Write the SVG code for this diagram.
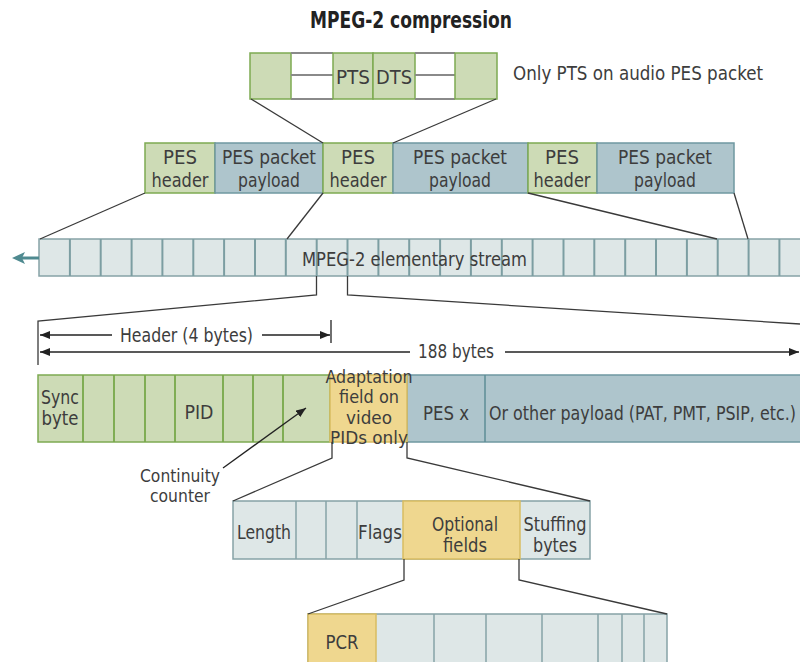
<svg xmlns="http://www.w3.org/2000/svg" width="800" height="662" viewBox="0 0 800 662">
  <defs>
    <style>
      .t { font-family: "Liberation Sans Narrow", "DejaVu Sans Condensed", "Liberation Sans", sans-serif; font-size: 19.5px; fill: #3d3d3d; }
      .s { font-size: 18px; }
      .c { text-anchor: middle; }
      .title { font-family: "Liberation Sans Narrow", "DejaVu Sans Condensed", "Liberation Sans", sans-serif; font-size: 23px; font-weight: bold; fill: #222; }
      .green { fill: #cddbb6; stroke: #7daa52; stroke-width: 1.5; }
      .blue { fill: #aec5cc; stroke: #6f98a1; stroke-width: 1.5; }
      .light { fill: #dee7e7; stroke: #86a3a7; stroke-width: 1.5; }
      .yellow { fill: #efd78f; stroke: #d9bd62; stroke-width: 1.5; }
      .div { stroke: #7c9ea2; stroke-width: 2; }
      .gdiv { stroke: #78a84a; stroke-width: 1.8; }
      .ldiv { stroke: #86a3a7; stroke-width: 1.5; }
      .gray { stroke: #8a8a8a; stroke-width: 1.8; fill: none; }
      .conn { stroke: #3a3a3a; stroke-width: 1.3; fill: none; }
      .dim { stroke: #222; stroke-width: 1.3; fill: none; }
    </style>
    <marker id="ah" viewBox="0 0 10 8" refX="10" refY="4" markerWidth="10" markerHeight="8" markerUnits="userSpaceOnUse" orient="auto-start-reverse">
      <path d="M0,0 L10,4 L0,8 z" fill="#222"/>
    </marker>
  </defs>

  <rect width="800" height="662" fill="#ffffff"/>

  <text class="title c" x="411" y="28" textLength="202" lengthAdjust="spacingAndGlyphs">MPEG-2 compression</text>

  <!-- PES header detail -->
  <g id="pes-header-detail">
    <rect class="green" x="250" y="53" width="41" height="46"/>
    <line class="gray" x1="291" y1="53" x2="333" y2="53"/>
    <line class="gray" x1="291" y1="75" x2="333" y2="75"/>
    <line class="gray" x1="291" y1="99" x2="333" y2="99"/>
    <rect class="green" x="333" y="53" width="40" height="46"/>
    <rect class="green" x="373" y="53" width="42" height="46"/>
    <line class="gray" x1="415" y1="53" x2="455" y2="53"/>
    <line class="gray" x1="415" y1="75" x2="455" y2="75"/>
    <line class="gray" x1="415" y1="99" x2="455" y2="99"/>
    <rect class="green" x="455" y="53" width="42" height="46"/>
    <text class="t c" x="353" y="84" textLength="34" lengthAdjust="spacingAndGlyphs">PTS</text>
    <text class="t c" x="394" y="84" textLength="36" lengthAdjust="spacingAndGlyphs">DTS</text>
  </g>
  <text class="t" x="513" y="80" textLength="250" lengthAdjust="spacingAndGlyphs">Only PTS on audio PES packet</text>

  <!-- PES packets -->
  <g id="pes-packets">
    <rect class="green" x="145" y="143" width="70" height="50"/>
    <rect class="blue" x="215" y="143" width="108" height="50"/>
    <rect class="green" x="323" y="143" width="70" height="50"/>
    <rect class="blue" x="393" y="143" width="135" height="50"/>
    <rect class="green" x="528" y="143" width="69" height="50"/>
    <rect class="blue" x="597" y="143" width="137" height="50"/>
    <text class="t c" x="180" y="164" textLength="34" lengthAdjust="spacingAndGlyphs">PES</text>
    <text class="t c" x="180" y="187" textLength="57" lengthAdjust="spacingAndGlyphs">header</text>
    <text class="t c" x="269" y="164" textLength="94" lengthAdjust="spacingAndGlyphs">PES packet</text>
    <text class="t c" x="269" y="187" textLength="62" lengthAdjust="spacingAndGlyphs">payload</text>
    <text class="t c" x="358" y="164" textLength="34" lengthAdjust="spacingAndGlyphs">PES</text>
    <text class="t c" x="358" y="187" textLength="57" lengthAdjust="spacingAndGlyphs">header</text>
    <text class="t c" x="460" y="164" textLength="94" lengthAdjust="spacingAndGlyphs">PES packet</text>
    <text class="t c" x="460" y="187" textLength="62" lengthAdjust="spacingAndGlyphs">payload</text>
    <text class="t c" x="562" y="164" textLength="34" lengthAdjust="spacingAndGlyphs">PES</text>
    <text class="t c" x="562" y="187" textLength="57" lengthAdjust="spacingAndGlyphs">header</text>
    <text class="t c" x="665" y="164" textLength="94" lengthAdjust="spacingAndGlyphs">PES packet</text>
    <text class="t c" x="665" y="187" textLength="62" lengthAdjust="spacingAndGlyphs">payload</text>
  </g>

  <!-- elementary stream -->
  <g id="elementary-stream">
    <rect class="light" x="39" y="239" width="780" height="37"/>
    <g class="div">
      <line x1="69.9" y1="239" x2="69.9" y2="276"/>
      <line x1="100.7" y1="239" x2="100.7" y2="276"/>
      <line x1="131.6" y1="239" x2="131.6" y2="276"/>
      <line x1="162.4" y1="239" x2="162.4" y2="276"/>
      <line x1="193.3" y1="239" x2="193.3" y2="276"/>
      <line x1="224.1" y1="239" x2="224.1" y2="276"/>
      <line x1="255" y1="239" x2="255" y2="276"/>
      <line x1="285.8" y1="239" x2="285.8" y2="276"/>
      <line x1="316.7" y1="239" x2="316.7" y2="276"/>
      <line x1="347.5" y1="239" x2="347.5" y2="276"/>
      <line x1="378.4" y1="239" x2="378.4" y2="276"/>
      <line x1="409.2" y1="239" x2="409.2" y2="276"/>
      <line x1="440.1" y1="239" x2="440.1" y2="276"/>
      <line x1="470.9" y1="239" x2="470.9" y2="276"/>
      <line x1="501.8" y1="239" x2="501.8" y2="276"/>
      <line x1="532.6" y1="239" x2="532.6" y2="276"/>
      <line x1="563.5" y1="239" x2="563.5" y2="276"/>
      <line x1="594.3" y1="239" x2="594.3" y2="276"/>
      <line x1="625.2" y1="239" x2="625.2" y2="276"/>
      <line x1="656" y1="239" x2="656" y2="276"/>
      <line x1="686.9" y1="239" x2="686.9" y2="276"/>
      <line x1="717.7" y1="239" x2="717.7" y2="276"/>
      <line x1="748.6" y1="239" x2="748.6" y2="276"/>
      <line x1="779.4" y1="239" x2="779.4" y2="276"/>
    </g>
    <text class="t" x="302" y="266" textLength="225" lengthAdjust="spacingAndGlyphs">MPEG-2 elementary stream</text>
    <line x1="22" y1="258" x2="39" y2="258" stroke="#4f8a90" stroke-width="3"/>
    <path d="M12,258 L25,252 L22,258 L25,264 z" fill="#4f8a90"/>
  </g>

  <!-- transport packet -->
  <g id="transport-packet">
    <rect class="green" x="38" y="375" width="292" height="67"/>
    <g class="gdiv">
      <line x1="83" y1="375" x2="83" y2="442"/>
      <line x1="114" y1="375" x2="114" y2="442"/>
      <line x1="145" y1="375" x2="145" y2="442"/>
      <line x1="175" y1="375" x2="175" y2="442"/>
      <line x1="223" y1="375" x2="223" y2="442"/>
      <line x1="253" y1="375" x2="253" y2="442"/>
      <line x1="283" y1="375" x2="283" y2="442"/>
    </g>
    <rect class="blue" x="407" y="375" width="410" height="67"/>
    <line x1="485" y1="375" x2="485" y2="442" stroke="#5d8d96" stroke-width="1.5"/>
    <rect class="yellow" x="330" y="375" width="77" height="67"/>
    <text class="t c" x="60" y="404" textLength="38" lengthAdjust="spacingAndGlyphs">Sync</text>
    <text class="t c" x="60" y="425" textLength="37" lengthAdjust="spacingAndGlyphs">byte</text>
    <text class="t c" x="199" y="419" textLength="29" lengthAdjust="spacingAndGlyphs">PID</text>
    <text class="t s c" x="369" y="383" textLength="87" lengthAdjust="spacingAndGlyphs">Adaptation</text>
    <text class="t s c" x="369" y="403" textLength="60" lengthAdjust="spacingAndGlyphs">field on</text>
    <text class="t s c" x="369" y="424" textLength="46" lengthAdjust="spacingAndGlyphs">video</text>
    <text class="t s c" x="369" y="444" textLength="78" lengthAdjust="spacingAndGlyphs">PIDs only</text>
    <text class="t c" x="446" y="420" textLength="46" lengthAdjust="spacingAndGlyphs">PES x</text>
    <text class="t" x="489" y="420" textLength="307" lengthAdjust="spacingAndGlyphs">Or other payload (PAT, PMT, PSIP, etc.)</text>
  </g>

  <text class="t s c" x="180" y="482" textLength="80" lengthAdjust="spacingAndGlyphs">Continuity</text>
  <text class="t s c" x="180" y="502" textLength="60" lengthAdjust="spacingAndGlyphs">counter</text>

  <!-- adaptation field -->
  <g id="adaptation-field">
    <rect class="light" x="233" y="501" width="357" height="58"/>
    <g class="ldiv">
      <line x1="296" y1="501" x2="296" y2="559"/>
      <line x1="326" y1="501" x2="326" y2="559"/>
      <line x1="357" y1="501" x2="357" y2="559"/>
    </g>
    <rect class="yellow" x="403" y="501" width="117" height="58"/>
    <text class="t c" x="264" y="539" textLength="54" lengthAdjust="spacingAndGlyphs">Length</text>
    <text class="t c" x="380" y="539" textLength="44" lengthAdjust="spacingAndGlyphs">Flags</text>
    <text class="t c" x="465" y="531" textLength="66" lengthAdjust="spacingAndGlyphs">Optional</text>
    <text class="t c" x="465" y="552" textLength="44" lengthAdjust="spacingAndGlyphs">fields</text>
    <text class="t c" x="555" y="531" textLength="63" lengthAdjust="spacingAndGlyphs">Stuffing</text>
    <text class="t c" x="555" y="552" textLength="44" lengthAdjust="spacingAndGlyphs">bytes</text>
  </g>

  <!-- optional fields -->
  <g id="optional-fields">
    <rect class="light" x="308" y="614" width="359" height="60"/>
    <g class="ldiv">
      <line x1="434" y1="614" x2="434" y2="662"/>
      <line x1="486" y1="614" x2="486" y2="662"/>
      <line x1="542" y1="614" x2="542" y2="662"/>
      <line x1="598" y1="614" x2="598" y2="662"/>
      <line x1="622" y1="614" x2="622" y2="662"/>
      <line x1="644" y1="614" x2="644" y2="662"/>
    </g>
    <rect class="yellow" x="308" y="614" width="68" height="60"/>
    <text class="t c" x="342" y="649" textLength="33" lengthAdjust="spacingAndGlyphs">PCR</text>
  </g>

  <!-- connectors -->
  <g id="connectors">
    <line class="conn" x1="251" y1="99" x2="323" y2="143"/>
    <line class="conn" x1="496" y1="99" x2="393" y2="143"/>
    <line class="conn" x1="145" y1="193" x2="40" y2="239"/>
    <line class="conn" x1="323" y1="193" x2="287" y2="239"/>
    <line class="conn" x1="528" y1="193" x2="717" y2="239"/>
    <line class="conn" x1="734" y1="193" x2="748" y2="239"/>
    <polyline class="conn" points="316.5,276 316.5,295 38,321 38,365"/>
    <polyline class="conn" points="347.5,276 347.5,295 800,324"/>
    <line class="dim" x1="331" y1="320" x2="331" y2="343"/>
    <line class="dim" x1="112" y1="335" x2="40" y2="335" marker-end="url(#ah)"/>
    <line class="dim" x1="262" y1="335" x2="330" y2="335" marker-end="url(#ah)"/>
    <line class="dim" x1="410" y1="352" x2="40" y2="352" marker-end="url(#ah)"/>
    <line class="dim" x1="505" y1="352" x2="799" y2="352" marker-end="url(#ah)"/>
    <line class="dim" x1="223" y1="468" x2="306" y2="408" marker-end="url(#ah)"/>
    <polyline class="conn" points="332,442 332,458 233,501"/>
    <polyline class="conn" points="407,442 407,458 590,501"/>
    <polyline class="conn" points="404,559 404,580 308,614"/>
    <polyline class="conn" points="519,559 519,580 667,614"/>
  </g>
  <text class="t" x="120" y="342" textLength="133" lengthAdjust="spacingAndGlyphs">Header (4 bytes)</text>
  <text class="t" x="418" y="358" textLength="76" lengthAdjust="spacingAndGlyphs">188 bytes</text>
</svg>
